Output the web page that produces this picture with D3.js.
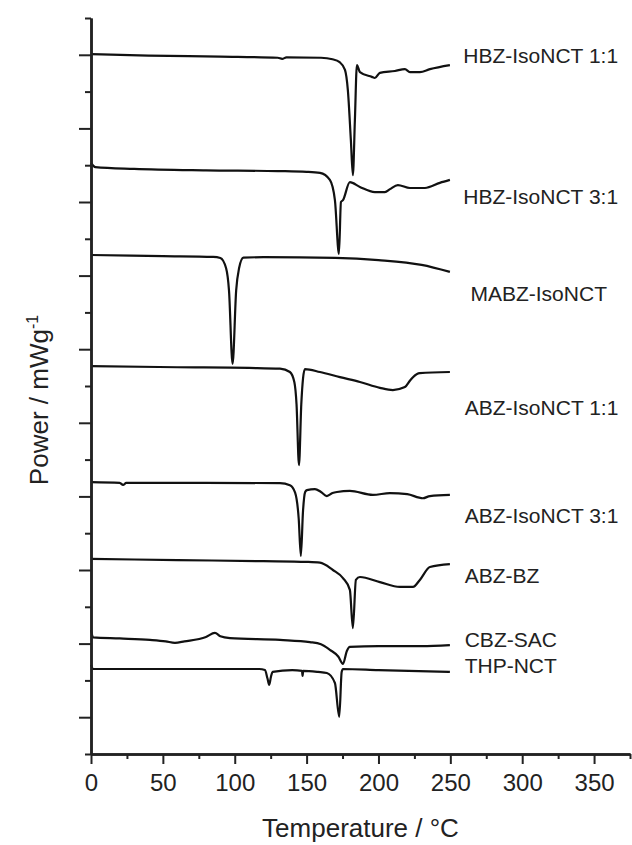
<!DOCTYPE html>
<html>
<head>
<meta charset="utf-8">
<script src="https://cdn.jsdelivr.net/npm/d3@7"></script>
<style>
  body { margin: 0; background: #fff; }
  svg text { font-family: "Liberation Sans", Arial, sans-serif; fill: #222; }
</style>
</head>
<body>
<svg id="chart"></svg>
<script>
// DSC traces, [temperature degC, power in stacked axis units]
var hbzIso11 = [[0,19.02],[40,18.98],[90,18.95],[130,18.92],[133,18.89],[136,18.93],[160,18.92],[168,18.88],[173,18.80],[176.7,18.59],[178.7,18.04],[180.8,16.68],[182.2,15.73],[183.6,17.23],[185,18.72],[187.1,18.53],[195.4,18.40],[197.5,18.37],[201,18.51],[211.4,18.56],[218.4,18.61],[221.9,18.53],[228.8,18.53],[235.8,18.61],[249.7,18.72]];
var hbzIso31 = [[0,16.06],[3,15.95],[30,15.90],[80,15.86],[130,15.84],[150,15.82],[159.3,15.79],[166.2,15.60],[169.7,15.05],[172.5,13.59],[173.9,15.00],[175.3,15.05],[180.1,15.54],[187.1,15.41],[197.5,15.27],[204.5,15.27],[208,15.35],[213.5,15.46],[221.9,15.38],[232.3,15.38],[242.7,15.52],[249.7,15.60]];
var mabzIso = [[0,13.56],[50,13.53],[85,13.51],[90,13.48],[94,13.2],[96,12.6],[98.5,10.60],[101,12.6],[103,13.2],[106,13.49],[120,13.50],[170,13.48],[200,13.42],[230,13.29],[249.7,13.10]];
var abzIso11 = [[0,10.54],[60,10.51],[110,10.49],[131.5,10.47],[138.4,10.38],[141.5,10.1],[143,9.5],[144.7,7.85],[146.3,9.5],[147.5,10.2],[148.8,10.46],[159.3,10.38],[173.2,10.24],[187.1,10.11],[201,9.95],[210,9.89],[218.4,9.97],[222,10.15],[224,10.24],[228.8,10.35],[249.7,10.38]];
var abzIso31 = [[0,7.39],[20,7.37],[22.3,7.31],[24.5,7.37],[80,7.37],[131.5,7.36],[138.4,7.30],[142,7.1],[144.5,6.4],[146,5.38],[147.5,6.6],[149,7.12],[150.2,7.17],[155.8,7.20],[160,7.12],[164.1,7.01],[168,7.09],[171.1,7.12],[180.1,7.15],[196.1,7.04],[208,7.09],[220,7.06],[230.9,6.95],[235.8,7.01],[249.7,7.04]];
var abzBz = [[0,5.30],[60,5.27],[120,5.24],[150,5.22],[159.3,5.20],[168.3,5.00],[175.3,4.78],[180.1,4.46],[182.2,3.42],[184.3,4.73],[187.1,4.81],[201,4.67],[214.9,4.54],[224,4.54],[228.8,4.73],[235.8,5.08],[249.7,5.16]];
var cbzSac = [[0,3.37],[1.5,3.17],[20,3.14],[41,3.10],[52,3.06],[58.4,3.02],[65,3.06],[80,3.18],[86.2,3.29],[90,3.20],[96.7,3.15],[131.5,3.10],[152.3,3.04],[160,2.98],[166.2,2.83],[172,2.65],[175.3,2.45],[178,2.80],[180.1,2.91],[200,2.93],[230,2.93],[249.7,2.96]];
var thpNct = [[0,2.42],[1.5,2.31],[60,2.31],[117,2.31],[121,2.28],[122.8,2.05],[124,1.88],[125.2,2.10],[126.4,2.23],[140,2.28],[146.8,2.26],[147.2,2.12],[147.6,2.26],[158,2.23],[164.1,2.20],[169.7,1.93],[172.7,1.01],[174.4,2.23],[175.3,2.31],[200,2.28],[249.7,2.23]];

var seriesNames = ["HBZ-IsoNCT 1:1", "HBZ-IsoNCT 3:1", "MABZ-IsoNCT", "ABZ-IsoNCT 1:1", "ABZ-IsoNCT 3:1", "ABZ-BZ", "CBZ-SAC", "THP-NCT"];
var labelLevels = [18.97, 15.14, 12.5, 9.40, 6.47, 4.84, 3.12, 2.39];
var labelTemps = [259, 259, 264, 260, 260, 260, 260, 260];

var xMajorTicks = [0, 50, 100, 150, 200, 250, 300, 350];
var xMinorTicks = [25, 75, 125, 175, 225, 275, 325, 375];
var yMajorTicks = [1, 3, 5, 7, 9, 11, 13, 15, 17, 19];
var yMinorTicks = [0, 2, 4, 6, 8, 10, 12, 14, 16, 18, 20];

var allSeries = [hbzIso11, hbzIso31, mabzIso, abzIso11, abzIso31, abzBz, cbzSac, thpNct];

var W = 632, H = 845;
var margin = {top: 18, right: 2, bottom: 91, left: 91},
  width = W - margin.left - margin.right,
  height = H - margin.top - margin.bottom;

var svg = d3.select("#chart").attr("width", W).attr("height", H);
var g = svg.append("g").attr("transform", "translate(" + margin.left + "," + margin.top + ")");

var x = d3.scaleLinear().domain([0, 375]).range([0, width]);
var y = d3.scaleLinear().domain([0, 20]).range([height, 0]);

var line = d3.line()
  .x((d) => x(d[0]))
  .y((d) => y(d[1]))
  .curve(d3.curveMonotoneX);

g.selectAll("path.trace")
  .data(allSeries)
  .enter().append("path")
    .attr("class", "trace")
    .attr("d", line)
    .attr("fill", "none")
    .attr("stroke", "#111")
    .attr("stroke-width", 2.2)
    .attr("stroke-linejoin", "round");

g.selectAll("text.name")
  .data(seriesNames)
  .enter().append("text")
    .attr("class", "name")
    .attr("x", (d, i) => x(labelTemps[i]))
    .attr("y", (d, i) => y(labelLevels[i]))
    .attr("dy", "0.35em")
    .style("font-size", "21px")
    .text((d) => d);

// axes: minor ticks first, major ticks with labels on top
g.append("g")
  .attr("transform", "translate(0," + height + ")")
  .call(d3.axisBottom(x).tickValues(xMinorTicks).tickSize(5).tickSizeOuter(0).tickFormat(""));
g.append("g")
  .attr("class", "x-axis")
  .attr("transform", "translate(0," + height + ")")
  .call(d3.axisBottom(x).tickValues(xMajorTicks).tickSize(10).tickSizeOuter(0).tickPadding(10).tickFormat(d3.format("d")));

g.append("g")
  .call(d3.axisLeft(y).tickValues(yMinorTicks).tickSize(6).tickSizeOuter(0).tickFormat(""));
g.append("g")
  .call(d3.axisLeft(y).tickValues(yMajorTicks).tickSize(12).tickSizeOuter(0).tickFormat(""));

g.selectAll(".domain").attr("stroke", "#222").attr("stroke-width", 2.5);
g.selectAll(".tick line").attr("stroke", "#222").attr("stroke-width", 2);
g.selectAll(".x-axis text").style("font-size", "24px").attr("fill", "#222");

g.append("text")
  .attr("x", width / 2)
  .attr("y", height + 83)
  .attr("text-anchor", "middle")
  .style("font-size", "26px")
  .text("Temperature / \u00B0C");

var yTitle = svg.append("text")
  .attr("transform", "translate(48,400) rotate(-90)")
  .attr("text-anchor", "middle")
  .style("font-size", "26px");
yTitle.append("tspan").text("Power / mWg");
yTitle.append("tspan").attr("dy", "-0.6em").style("font-size", "16px").text("-1");
</script>
</body>
</html>
